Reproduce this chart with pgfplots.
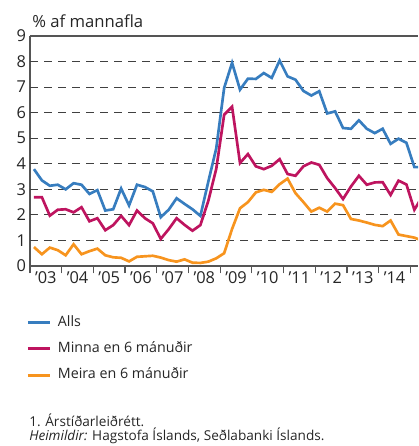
\documentclass[border=0pt]{standalone}
\usepackage{fontspec}
\setmainfont{Open Sans}
\usepackage{pgfplots}
\pgfplotsset{compat=1.18}
\usepackage{pgfplotstable}
\definecolor{cblue}{HTML}{377DBF}
\definecolor{cmag}{HTML}{BE145F}
\definecolor{corange}{HTML}{F7941E}
\definecolor{caxis}{HTML}{555555}

\pgfplotstableread{
x alls minna meira
2003.125 3.79 2.69 0.74
2003.375 3.35 2.69 0.46
2003.625 3.14 1.97 0.72
2003.875 3.18 2.20 0.62
2004.125 3.00 2.22 0.42
2004.375 3.24 2.10 0.85
2004.625 3.18 2.30 0.46
2004.875 2.82 1.75 0.58
2005.125 2.97 1.87 0.68
2005.375 2.17 1.40 0.42
2005.625 2.22 1.60 0.34
2005.875 3.03 1.96 0.32
2006.125 2.37 1.60 0.18
2006.375 3.18 2.17 0.36
2006.625 3.09 1.87 0.38
2006.875 2.92 1.67 0.40
2007.125 1.91 1.06 0.33
2007.375 2.20 1.44 0.23
2007.625 2.65 1.87 0.17
2007.875 2.43 1.61 0.26
2008.125 2.22 1.38 0.13
2008.375 1.96 1.60 0.12
2008.625 3.30 2.55 0.17
2008.875 4.60 3.80 0.30
2009.125 6.97 5.92 0.50
2009.375 7.95 6.23 1.45
2009.625 6.90 4.03 2.26
2009.875 7.33 4.38 2.50
2010.125 7.32 3.90 2.88
2010.375 7.55 3.79 2.98
2010.625 7.36 3.92 2.90
2010.875 8.04 4.18 3.20
2011.125 7.42 3.60 3.42
2011.375 7.29 3.53 2.85
2011.625 6.85 3.90 2.50
2011.875 6.67 4.05 2.13
2012.125 6.84 3.96 2.28
2012.375 5.97 3.44 2.13
2012.625 6.05 3.05 2.44
2012.875 5.40 2.62 2.38
2013.125 5.37 3.11 1.84
2013.375 5.70 3.53 1.78
2013.625 5.37 3.18 1.70
2013.875 5.20 3.27 1.61
2014.125 5.37 3.28 1.56
2014.375 4.78 2.78 1.78
2014.625 4.98 3.34 1.23
2014.875 4.82 3.19 1.17
2015.125 3.87 2.20 1.11
2015.375 3.87 2.72 0.99
}\datatable

\begin{document}
\begin{tikzpicture}
\useasboundingbox (-22.5pt,-135pt) rectangle (291pt,199.5pt);
\begin{axis}[
  at={(0,0)}, anchor=south west,
  scale only axis, width=291pt, height=172.5pt,
  xmin=2003, xmax=2015.24, ymin=0, ymax=9,
  axis x line=box, axis y line=left,
  axis line style={-, draw=caxis, line width=1pt},
  clip=true,
  ytick={0,...,9},
  y tick style={draw=none},
  yticklabel style={xshift=0.5pt},
  extra y ticks={1,2,3,4,5,6,7,8},
  extra y tick labels={},
  extra y tick style={grid=major, major grid style={draw=black!75, line width=0.9pt, dash pattern=on 6pt off 4.5pt}, tick style={draw=none}},
  xtick={2003.5,2004.5,2005.5,2006.5,2007.5,2008.5,2009.5,2010.5,2011.5,2012.5,2013.5,2014.5},
  xticklabels={'03,'04,'05,'06,'07,'08,'09,'10,'11,'12,'13,'14},
  xticklabel style={yshift=-1pt},
  minor xtick={2003,2004,2005,2006,2007,2008,2009,2010,2011,2012,2013,2014,2015},
  xtick pos=bottom,
  tick align=outside,
  major tick length=0pt,
  minor tick length=5.5pt,
  minor tick style={draw=caxis, line width=0.9pt},
  /pgf/number format/assume math mode=true,
  tick label style={font=\fontsize{12.3}{14}\selectfont, text=black!85},
  legend cell align=left,
  legend image code/.code={\draw[#1] (0pt,0pt) -- (16.5pt,0pt);},
  legend style={at={(rel axis cs:-0.0095,-0.202)}, anchor=north west, draw=none, fill=none,
    font=\fontsize{10.7}{12}\selectfont, row sep=5.3pt, inner sep=0pt,
    nodes={inner sep=2pt, text height=8pt, text depth=2.5pt, text=black!85},
    /tikz/every odd column/.append style={column sep=3pt}},
]
\addplot[cblue, line width=2pt] table[x=x, y=alls] {\datatable};
\addlegendentry{Alls}
\addplot[cmag, line width=2pt] table[x=x, y=minna] {\datatable};
\addlegendentry{Minna en 6 mánuðir}
\addplot[corange, line width=2pt] table[x=x, y=meira] {\datatable};
\addlegendentry{Meira en 6 mánuðir}
\end{axis}
\node[anchor=base west, inner sep=0pt, font=\fontsize{12.5}{14}\selectfont, text=black!85] at (1.5pt,178.5pt) {\% af mannafla};
\node[anchor=base west, inner sep=0pt, font=\fontsize{10.2}{11}\selectfont, text=black!85] at (-0.75pt,-120.5pt) {1. Árstíðarleiðrétt.};
\node[anchor=base west, inner sep=0pt, font=\fontsize{10.2}{11}\selectfont, text=black!85] at (-0.75pt,-130.5pt) {\textit{Heimildir:} Hagstofa Íslands, Seðlabanki Íslands.};
\end{tikzpicture}
\end{document}
